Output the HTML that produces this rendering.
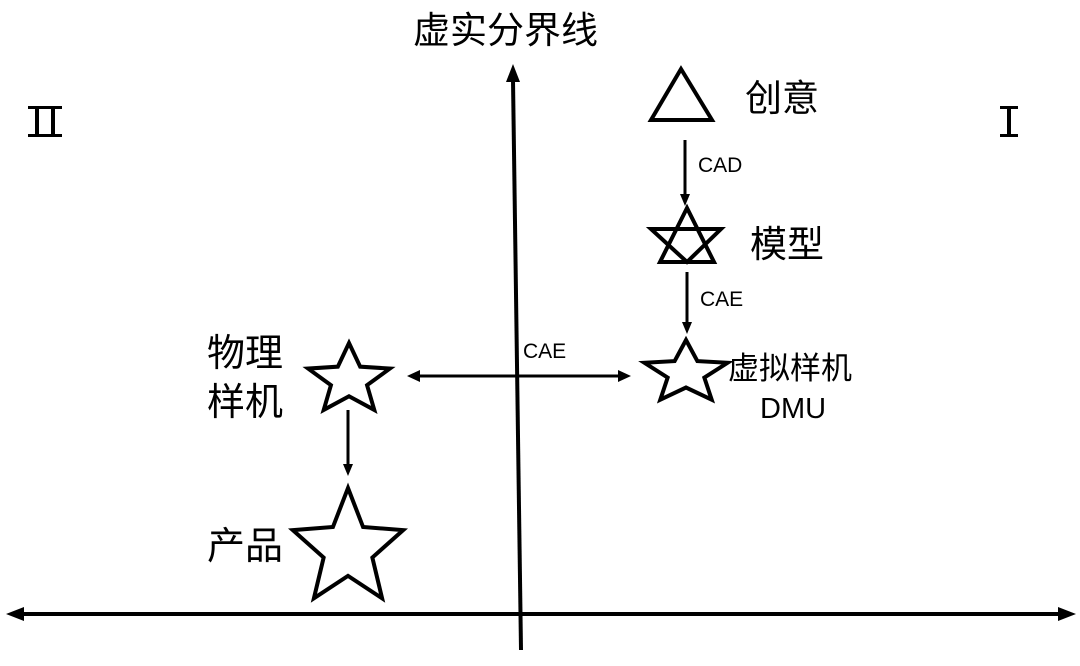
<!DOCTYPE html>
<html><head><meta charset="utf-8"><style>
body{margin:0;background:#fff;}
svg{display:block;}
text{font-family:"Liberation Sans","Noto Sans CJK SC",sans-serif;fill:#000;}
</style></head><body>
<svg width="1080" height="666" viewBox="0 0 1080 666" xmlns="http://www.w3.org/2000/svg">
<defs>
<polygon id="st" points="0,-100 26,-36 95.1,-30.9 42,14 58.8,80.9 0,44 -58.8,80.9 -42,14 -95.1,-30.9 -26,-36" fill="none" stroke="#000" stroke-width="4" vector-effect="non-scaling-stroke" stroke-linejoin="miter"/>
</defs>
<line x1="513" y1="80" x2="521" y2="650" stroke="#000" stroke-width="4"/>
<polygon points="513,64 506,82 520,82" fill="#000"/>
<line x1="20" y1="614" x2="1062" y2="614" stroke="#000" stroke-width="4"/>
<polygon points="6,614 24,607 24,621" fill="#000"/>
<polygon points="1076,614 1058,607 1058,621" fill="#000"/>
<text x="413" y="43" font-size="37">虚实分界线</text>
<!-- II -->
<rect x="28" y="106" width="34" height="3" fill="#000"/>
<rect x="28" y="134" width="34" height="3" fill="#000"/>
<rect x="35" y="106" width="4" height="31" fill="#000"/>
<rect x="51" y="106" width="4" height="31" fill="#000"/>
<!-- I -->
<rect x="1000" y="106" width="18" height="3" fill="#000"/>
<rect x="1000" y="134" width="18" height="3" fill="#000"/>
<rect x="1007" y="106" width="4" height="31" fill="#000"/>
<polygon points="681,69 651,120 712,120" fill="none" stroke="#000" stroke-width="4"/>
<text x="745" y="111" font-size="37">创意</text>
<line x1="685" y1="140" x2="685" y2="196" stroke="#000" stroke-width="3"/>
<polygon points="685,206 680,194 690,194" fill="#000"/>
<text x="698" y="172" font-size="21">CAD</text>
<polygon points="687,208 660,262 714,262" fill="none" stroke="#000" stroke-width="4"/>
<polygon points="651,229 721,229 687,262" fill="none" stroke="#000" stroke-width="4"/>
<text x="750" y="257" font-size="37">模型</text>
<line x1="687" y1="272" x2="687" y2="324" stroke="#000" stroke-width="3"/>
<polygon points="687,334 682,322 692,322" fill="#000"/>
<text x="700" y="306" font-size="21">CAE</text>
<use href="#st" transform="translate(686,373) scale(0.437,0.33)"/>
<text x="728" y="379" font-size="31">虚拟样机</text>
<text x="760" y="418" font-size="29">DMU</text>
<line x1="418" y1="376" x2="620" y2="376" stroke="#000" stroke-width="3"/>
<polygon points="407,376 420,370 420,382" fill="#000"/>
<polygon points="631,376 618,370 618,382" fill="#000"/>
<text x="523" y="358" font-size="21">CAE</text>
<use href="#st" transform="translate(349,380) scale(0.43,0.37)"/>
<text x="207" y="366" font-size="38">物理</text>
<text x="207" y="415" font-size="38">样机</text>
<line x1="348" y1="410" x2="348" y2="466" stroke="#000" stroke-width="3"/>
<polygon points="348,476 343,464 353,464" fill="#000"/>
<use href="#st" transform="translate(348,549) scale(0.58,0.61)"/>
<text x="207" y="559" font-size="38">产品</text>
</svg>
</body></html>
